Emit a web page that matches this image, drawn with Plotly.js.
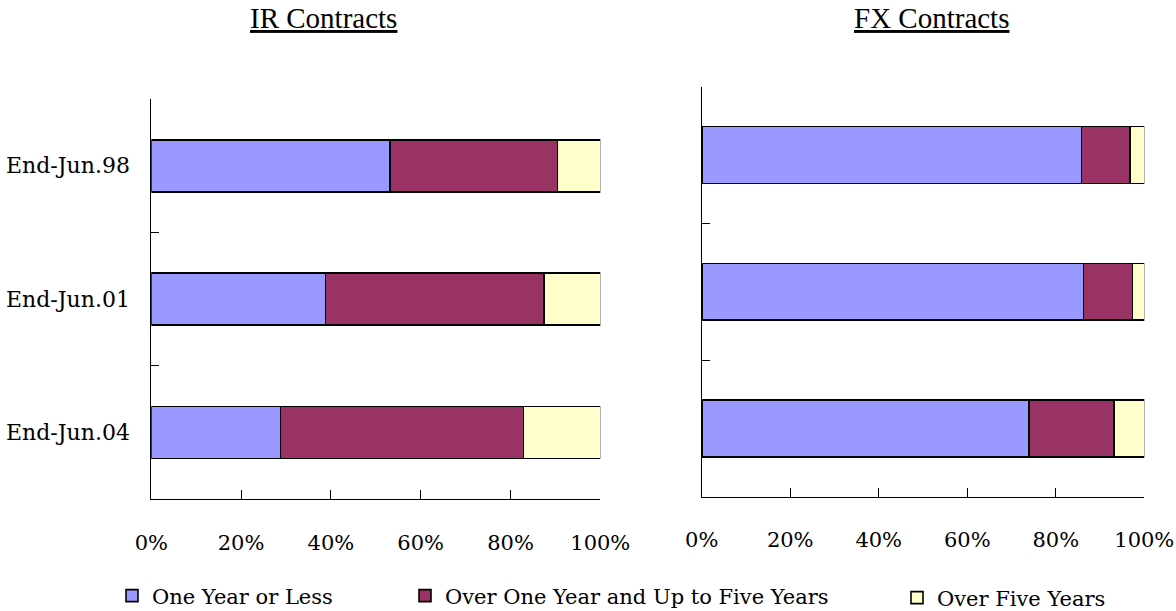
<!DOCTYPE html>
<html>
<head>
<meta charset="utf-8">
<script src="https://cdn.plot.ly/plotly-3.0.1.min.js"></script>
<style>html,body{margin:0;padding:0;background:#fff;}#chart{width:1176px;height:611px;}</style>
</head>
<body>
<div id="chart"></div>
<script>
// ---- data ----
const periods = ["End-Jun.98", "End-Jun.01", "End-Jun.04"];
const seriesNames = ["One Year or Less", "Over One Year and Up to Five Years", "Over Five Years"];
const irShort = [53.2, 38.8, 28.8];
const irMid   = [37.3, 48.7, 54.1];
const irLong  = [9.5, 12.5, 17.1];
const fxShort = [85.8, 86.3, 73.9];
const fxMid   = [11.0, 11.0, 19.2];
const fxLong  = [3.2, 2.7, 6.9];
const xTickVals = [0, 20, 40, 60, 80, 100];
const xTickText = ["0%", "20%", "40%", "60%", "80%", "100%"];
const panelTitles = ["IR Contracts", "FX Contracts"];

// ---- style ----
const colors = ["#9999FF", "#993366", "#FFFFCC"];
const legendIds = ["legend", "legend2", "legend3"];
const serifTick = "DejaVu Serif, serif";
const serifTitle = "Liberation Serif, Times New Roman, serif";

function mk(vals, i, xa, ya, w, show) {
  return {
    type: "bar", orientation: "h",
    x: vals, y: periods, name: seriesNames[i],
    xaxis: xa, yaxis: ya, width: w,
    marker: {color: colors[i], line: {color: "#000", width: 1.6}},
    showlegend: show, legend: legendIds[i],
    hoverinfo: "x+name"
  };
}

const data = [
  mk(irShort, 0, "x", "y", 0.39, true),
  mk(irMid, 1, "x", "y", 0.39, true),
  mk(irLong, 2, "x", "y", 0.39, true),
  mk(fxShort, 0, "x2", "y2", 0.415, false),
  mk(fxMid, 1, "x2", "y2", 0.415, false),
  mk(fxLong, 2, "x2", "y2", 0.415, false)
];

function xax(dom, anchor) {
  return {
    domain: dom, anchor: anchor, range: [0, 100], fixedrange: true,
    tickvals: xTickVals, ticktext: xTickText,
    ticks: "inside", ticklen: 9, tickwidth: 1, tickcolor: "#000",
    showline: true, linecolor: "#000", linewidth: 1,
    showgrid: false, zeroline: false,
    tickfont: {family: serifTick, size: 21, color: "#000"},
    ticklabelstandoff: 24, automargin: false
  };
}
function yax(dom, anchor, showLabels) {
  return {
    domain: dom, anchor: anchor, type: "category",
    categoryorder: "array", categoryarray: periods,
    range: [2.5, -0.5], fixedrange: true,
    ticks: "inside", ticklen: 8, tickwidth: 1, tickcolor: "#000",
    tickson: "boundaries",
    showline: true, linecolor: "#000", linewidth: 1,
    showgrid: false, zeroline: false,
    showticklabels: showLabels,
    tickfont: {family: serifTick, size: 22, color: "#000"},
    ticklabelstandoff: 16, automargin: false
  };
}

function leg(x, y) {
  return {
    orientation: "h", x: x, xanchor: "left", y: y, yanchor: "middle",
    font: {family: serifTick, size: 21, color: "#000"},
    bgcolor: "rgba(0,0,0,0)", borderwidth: 0, itemclick: false, itemdoubleclick: false
  };
}

const layout = {
  width: 1176, height: 611,
  margin: {l: 0, r: 0, t: 0, b: 0, autoexpand: false},
  paper_bgcolor: "#fff", plot_bgcolor: "#fff",
  barmode: "stack",
  showlegend: true,
  xaxis: xax([151.3/1176, 600.3/1176], "y"),
  yaxis: yax([1 - 499.3/611, 1 - 99/611], "x", true),
  xaxis2: xax([701.7/1176, 1144.3/1176], "y2"),
  yaxis2: yax([1 - 496.7/611, 1 - 86.7/611], "x2", false),
  legend: leg(112/1176, 1 - 596/611),
  legend2: leg(405/1176, 1 - 596/611),
  legend3: leg(897/1176, 1 - 598/611),
  annotations: [
    {text: "<u>" + panelTitles[0] + "</u>", x: 324/1176, y: 1 - 18/611, xref: "paper", yref: "paper",
     xanchor: "center", yanchor: "middle", showarrow: false,
     font: {family: serifTitle, size: 29, color: "#000"}},
    {text: "<u>" + panelTitles[1] + "</u>", x: 931/1176, y: 1 - 18/611, xref: "paper", yref: "paper",
     xanchor: "center", yanchor: "middle", showarrow: false,
     font: {family: serifTitle, size: 29, color: "#000"}}
  ]
};

Plotly.newPlot("chart", data, layout, {displayModeBar: false});
</script>
</body>
</html>
